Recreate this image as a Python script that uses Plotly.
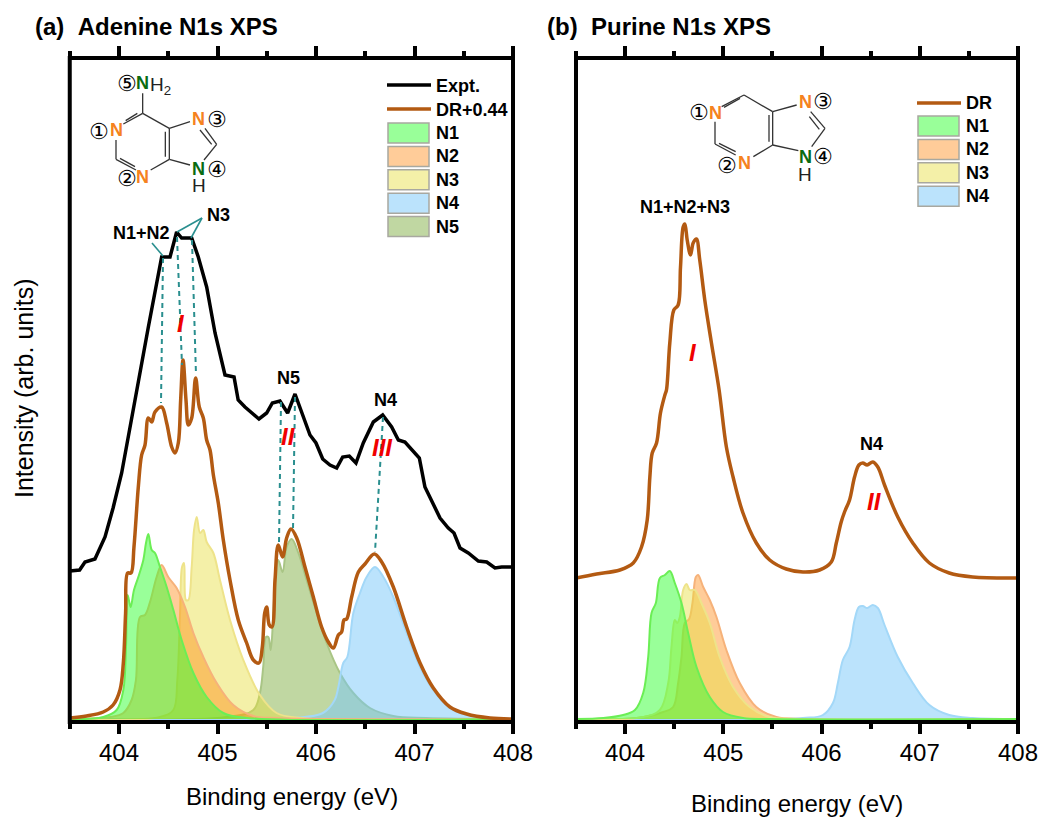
import plotly.graph_objects as go

# ---------- Panel (a) data: binding energy (eV), intensity (arb.) ----------
a_expt_x = [403.5,403.60,403.655,403.756,403.858,403.94,404.027,404.11,404.196,404.298,404.433,404.518,404.585,404.636,404.738,404.805,404.89,404.975,405.076,405.168,405.21,405.279,405.421,405.499,405.557,405.634,405.712,405.787,405.871,405.939,406.0,406.068,406.142,406.21,406.271,406.338,406.406,406.48,406.582,406.677,406.768,406.836,406.903,406.988,407.049,407.106,407.174,407.259,407.343,407.401,407.462,407.546,407.648,407.733,407.817,407.885,408.0]
a_expt_y = [148,149,157,160,182,211,246,289,337,392,462,462,487,481,481,462,432,386,344,342,319,312,300,306,316,318,306,325,301,284,276,260,254,251,262,263,256,276,297,304,292,279,277,267,261,232,219,201,191,186,171,166,158,157,151,152,152]

a_dr_x = [403.5,403.67,403.84,403.94,404.01,404.044,404.067,404.088,404.122,404.152,404.196,404.23,404.264,404.298,404.332,404.365,404.433,404.484,404.535,404.568,404.602,404.626,404.65,404.68,404.704,404.738,404.778,404.815,404.856,404.89,404.924,404.958,405.008,405.059,405.127,405.211,405.296,405.364,405.421,405.455,405.479,405.499,405.526,405.553,405.584,405.617,405.661,405.702,405.746,405.804,405.888,405.973,406.057,406.125,406.176,406.227,406.26,406.284,406.311,406.362,406.43,406.497,406.592,406.667,406.785,406.92,407.056,407.191,407.36,407.53,407.766,408.0]
a_dr_y = [1,3,7,14,29,56,106,146,146,172,232,264,274,301,297,307,312,296,272,266,276,319,359,319,294,301,341,312,301,279,269,244,216,179,139,99,76,59,56,72,106,112,94,92,139,174,162,181,190,181,152,122,92,77,71,84,87,99,100,122,147,155,165,157,132,92,56,31,12,5,1,0]

a_n1_x = [403.5,403.84,403.976,404.044,404.071,404.088,404.118,404.152,404.196,404.247,404.274,404.298,404.332,404.365,404.416,404.484,404.552,404.636,404.755,404.89,405.059,405.296,408.0]
a_n1_y = [0,2,9,29,72,124,112,129,142,159,176,185,169,166,152,132,109,79,46,22,6,1,0]

a_n2_x = [403.5,403.909,404.044,404.128,404.172,404.213,404.264,404.315,404.382,404.433,404.5,404.585,404.67,404.755,404.856,404.992,405.16,405.364,405.6,408.0]
a_n2_y = [0,2,6,19,39,102,104,117,142,154,142,131,112,86,62,36,14,3,1,0]

a_n3_x = [403.5,404.416,404.552,404.592,404.62,404.64,404.66,404.68,404.704,404.738,404.762,404.789,404.823,404.856,404.89,404.958,405.025,405.127,405.262,405.431,405.6,405.837,408.0]
a_n3_y = [0,2,9,39,106,152,156,119,119,152,189,202,186,189,177,166,139,99,59,24,6,1,0]

a_n4_x = [403.5,405.77,406.07,406.19,406.227,406.277,406.318,406.379,406.447,406.514,406.599,406.684,406.785,406.92,407.056,407.191,407.36,407.53,407.766,408.0]
a_n4_y = [0,1,6,19,32,56,62,106,126,142,152,142,122,86,52,29,11,4,1,0]

a_n5_x = [403.5,405.093,405.364,405.431,405.465,405.492,405.516,405.54,405.567,405.594,405.617,405.661,405.702,405.753,405.821,405.905,406.007,406.108,406.243,406.379,406.548,406.785,407.12,408.0]
a_n5_y = [0,2,9,26,53,82,82,69,106,152,159,147,172,180,166,139,106,76,46,26,11,3,1,0]

# ---------- Panel (b) data ----------
b_dr_x = [403.5,403.71,403.947,404.083,404.167,404.225,404.252,404.276,404.32,404.36,404.405,404.421,404.455,404.496,404.54,404.564,404.591,404.608,404.632,404.666,404.693,404.726,404.76,404.811,404.879,404.957,405.031,405.099,405.2,405.336,405.472,405.641,405.811,405.98,406.099,406.15,406.2,406.234,406.285,406.336,406.38,406.42,406.464,406.522,406.573,406.641,406.776,406.929,407.098,407.3,407.538,408.0]
b_dr_y = [141,145,149,156,172,199,242,266,276,306,324,329,376,409,414,452,492,495,479,464,476,480,459,419,376,329,272,242,206,176,159,150,147,149,157,176,197,207,219,242,254,256,254,257,252,234,202,176,156,146,142,141]

b_n1_x = [403.5,403.778,403.98,404.1,404.184,404.235,404.269,404.313,404.354,404.405,404.455,404.506,404.574,404.642,404.727,404.862,404.997,405.2,405.47,408.0]
b_n1_y = [0,1,4,9,26,62,106,116,141,144,148,136,116,86,52,22,7,1,0,0]

b_n2_x = [403.5,404.117,404.388,404.489,404.54,404.574,404.608,404.652,404.686,404.72,404.743,404.795,404.862,404.93,405.031,405.167,405.336,405.54,405.81,408.0]
b_n2_y = [0,1,7,12,36,62,96,100,116,142,144,132,119,102,69,36,12,2,0,0]

b_n3_x = [403.5,404.184,404.354,404.439,404.472,404.506,404.53,404.557,404.591,404.625,404.659,404.71,404.777,404.862,404.963,405.099,405.268,405.472,405.743,408.0]
b_n3_y = [0,2,9,36,72,99,96,102,129,135,129,129,116,96,62,32,12,2,0,0]

b_n4_x = [403.5,405.811,406.014,406.116,406.166,406.217,406.285,406.336,406.38,406.42,406.464,406.522,406.573,406.641,406.776,406.929,407.098,407.3,407.538,408.0]
b_n4_y = [0,1,4,16,36,59,72,99,112,113,111,114,111,94,62,36,14,4,1,0]

tick_values = [404, 405, 406, 407, 408]
tick_labels = ["404", "405", "406", "407", "408"]

FONT = "Liberation Sans"
W, H = 1039, 817
FILL = {"N1": "rgba(51,255,51,0.5)", "N2": "rgba(255,127,0,0.4)", "N3": "rgba(231,222,62,0.45)",
        "N4": "rgba(120,200,250,0.5)", "N5": "rgba(130,175,70,0.5)"}
EDGE = {"N1": "#6bee55", "N2": "#f6b27a", "N3": "#eee38a", "N4": "#a3d8f8", "N5": "#a9c585"}
SWATCH = {"N1": "#99ff99", "N2": "#ffcc99", "N3": "#f4f0a8", "N4": "#bbe3fc", "N5": "#c0d7a2"}
BROWN = "#b35a12"
TEAL = "#2a8f8f"
ORANGE = "#f58220"
DGREEN = "#0a6b12"

fig = go.Figure()


def band(name, x, y, axis):
    fig.add_trace(go.Scatter(x=x, y=y, name=name, mode="lines", fill="tozeroy", fillcolor=FILL[name],
                             line=dict(color=EDGE[name], width=2, shape="spline", smoothing=1.0),
                             xaxis="x" + axis, yaxis="y" + axis, showlegend=False))


band("N5", a_n5_x, a_n5_y, "")
band("N4", a_n4_x, a_n4_y, "")
band("N3", a_n3_x, a_n3_y, "")
band("N2", a_n2_x, a_n2_y, "")
band("N1", a_n1_x, a_n1_y, "")
fig.add_trace(go.Scatter(x=a_dr_x, y=a_dr_y, name="DR+0.44", mode="lines", showlegend=False,
                         line=dict(color=BROWN, width=3.5, shape="spline", smoothing=1.0)))
fig.add_trace(go.Scatter(x=a_expt_x, y=a_expt_y, name="Expt.", mode="lines", showlegend=False,
                         line=dict(color="black", width=3.5)))
band("N4", b_n4_x, b_n4_y, "2")
band("N2", b_n2_x, b_n2_y, "2")
band("N3", b_n3_x, b_n3_y, "2")
band("N1", b_n1_x, b_n1_y, "2")
fig.add_trace(go.Scatter(x=b_dr_x, y=b_dr_y, name="DR", mode="lines", showlegend=False, xaxis="x2", yaxis="y2",
                         line=dict(color=BROWN, width=3.5, shape="spline", smoothing=1.0)))

shapes, annos = [], []


def px(x):
    return x / W


def py(y):
    return 1 - y / H


def seg(x0, y0, x1, y1, color="#333333", width=1.3, dash="solid"):
    shapes.append(dict(type="line", xref="paper", yref="paper", x0=px(x0), y0=py(y0), x1=px(x1), y1=py(y1),
                       line=dict(color=color, width=width, dash=dash)))


def txt(x, y, s, size=18, color="black", bold=False, italic=False, family=FONT, angle=0, anchor="center"):
    if bold:
        s = "<b>" + s + "</b>"
    if italic:
        s = "<i>" + s + "</i>"
    annos.append(dict(x=px(x), y=py(y), xref="paper", yref="paper", text=s, showarrow=False, xanchor=anchor,
                      yanchor="middle", textangle=angle, font=dict(family=family, size=size, color=color)))


def swatch(x0, x1, y0, y1, name):
    shapes.append(dict(type="rect", xref="paper", yref="paper", x0=px(x0), x1=px(x1), y0=py(y0), y1=py(y1),
                       fillcolor=SWATCH[name], line=dict(color="#a8a8a0", width=1.5)))


# frames (centred on plot-area edges)
for xr, yr in (("x domain", "y domain"), ("x2 domain", "y2 domain")):
    shapes.append(dict(type="rect", xref=xr, yref=yr, x0=0, x1=1, y0=0, y1=1, line=dict(color="black", width=4),
                       layer="above"))

# titles
txt(33, 27, "(a)&nbsp;&nbsp;Adenine N1s XPS", size=24, bold=True, anchor="left")
txt(545, 27, "(b)&nbsp;&nbsp;Purine N1s XPS", size=24, bold=True, anchor="left")
txt(292, 796, "Binding energy (eV)", size=24)
txt(797, 803, "Binding energy (eV)", size=24)
txt(24, 388, "Intensity (arb. units)", size=25, angle=-90)

# panel (a) legend
seg(387, 85, 431, 85, "black", 3.5)
seg(387, 109, 431, 109, BROWN, 3.5)
txt(434, 86, "Expt.", bold=True, anchor="left")
txt(434, 110, "DR+0.44", bold=True, anchor="left")
for i, n in enumerate(["N1", "N2", "N3", "N4", "N5"]):
    y0 = 123 + i * 23.4
    swatch(388, 429, y0, y0 + 20, n)
    txt(434, y0 + 10, n, bold=True, anchor="left")

# panel (b) legend
seg(917, 103, 961, 103, BROWN, 3.5)
txt(964, 103, "DR", bold=True, anchor="left")
for i, n in enumerate(["N1", "N2", "N3", "N4"]):
    y0 = 116 + i * 23.4
    swatch(918, 959, y0, y0 + 20, n)
    txt(964, y0 + 10, n, bold=True, anchor="left")

# guides
for g in [(163, 258, 161, 403), (177, 237, 182, 365), (192, 240, 196, 375),
          (281, 402, 279, 543), (295, 397, 293, 530), (383, 417, 375, 552)]:
    seg(*g, color=TEAL, width=2, dash="5px,4px")
for g in [(152, 243, 163, 256), (177, 232, 202, 218), (202, 218, 191, 238)]:
    seg(*g, color=TEAL, width=1.6)

# peak labels
txt(141, 233, "N1+N2", 18, bold=True)
txt(218, 215, "N3", 18, bold=True)
txt(288, 378, "N5", 18, bold=True)
txt(385, 400, "N4", 18, bold=True)
txt(685, 207, "N1+N2+N3", 18, bold=True)
txt(871, 444, "N4", 18, bold=True)
for x, y, s in [(181, 323, "I"), (288, 437, "II"), (382, 447, "III"), (693, 352, "I"), (874, 501, "II")]:
    txt(x, y, s, 24, "#f00000", bold=True, italic=True)


# molecules
def mol(ox, oy, bonds, labels):
    for b in bonds:
        seg(ox + b[0] / 3, oy + b[1] / 3, ox + b[2] / 3, oy + b[3] / 3)
    for x, y, s, c, fam, size, bold in labels:
        txt(ox + x / 3, oy + y / 3, s, size, c, family=fam, bold=bold)


DJ = "DejaVu Sans"
mol(60, 50,
    [(248, 190, 248, 130), (248, 190, 190, 222), (232, 190, 197, 212), (168, 270, 168, 328), (168, 328, 228, 360),
     (180, 325, 225, 350), (272, 360, 328, 328), (328, 328, 328, 235), (316, 320, 316, 245), (328, 235, 248, 190),
     (328, 235, 390, 215), (435, 235, 470, 283), (420, 240, 455, 283), (470, 283, 432, 330), (390, 345, 328, 328)],
    [(168, 240, "N", ORANGE, FONT, 18, True), (248, 382, "N", ORANGE, FONT, 18, True), (416, 208, "N", ORANGE, FONT, 18, True),
     (416, 358, "N", DGREEN, FONT, 18, True), (248, 100, "N", DGREEN, FONT, 18, True),
     (300, 108, "H<sub>2</sub>", "#222222", FONT, 19, False),
     (416, 408, "H", "#222222", FONT, 19, False), (118, 245, "①", "black", DJ, 22, False), (200, 385, "②", "black", DJ, 22, False),
     (472, 207, "③", "black", DJ, 22, False), (472, 357, "④", "black", DJ, 22, False), (200, 100, "⑤", "black", DJ, 22, False)])
mol(570, 50,
    [(522, 135, 455, 170), (510, 145, 462, 172), (435, 215, 435, 282), (435, 282, 497, 315), (447, 280, 497, 305),
     (550, 320, 608, 285), (608, 285, 608, 185), (597, 275, 597, 195), (608, 185, 522, 135), (608, 185, 680, 165),
     (722, 185, 765, 235), (718, 200, 748, 238), (765, 235, 725, 290), (685, 302, 608, 285)],
    [(435, 188, "N", ORANGE, FONT, 18, True), (524, 340, "N", ORANGE, FONT, 18, True), (706, 156, "N", ORANGE, FONT, 18, True),
     (706, 322, "N", DGREEN, FONT, 18, True), (706, 373, "H", "#222222", FONT, 19, False), (386, 188, "①", "black", DJ, 22, False),
     (470, 347, "②", "black", DJ, 22, False), (760, 153, "③", "black", DJ, 22, False), (760, 320, "④", "black", DJ, 22, False)])

xbase = dict(range=[403.5, 408], tickmode="array", tickvals=tick_values, ticktext=tick_labels, ticks="outside",
             ticklen=11, tickwidth=4, tickcolor="black", mirror="ticks", showline=False, showgrid=False,
             zeroline=False, ticklabelstandoff=-2, tickfont=dict(family=FONT, size=24, color="black"),
             minor=dict(tickmode="array", tickvals=[403.5, 404.5, 405.5, 406.5, 407.5], ticks="outside", ticklen=6,
                        tickwidth=4, tickcolor="black", showgrid=False))
ybase = dict(range=[-3, 661], showticklabels=False, ticks="", showgrid=False, zeroline=False, showline=False)
ydom = [py(722), py(58)]

fig.update_layout(
    width=W, height=H, autosize=False, margin=dict(l=0, r=0, t=0, b=0, autoexpand=False), paper_bgcolor="white", plot_bgcolor="white",
    font=dict(family=FONT, color="black"), showlegend=False,
    xaxis=dict(xbase, domain=[px(69.75), px(513)], anchor="y"),
    yaxis=dict(ybase, domain=ydom, anchor="x"),
    xaxis2=dict(xbase, domain=[px(576), px(1018)], anchor="y2"),
    yaxis2=dict(ybase, domain=ydom, anchor="x2"),
    shapes=shapes, annotations=annos,
)

fig.write_html("out.html", post_script="document.body.style.margin='0';document.body.style.overflow='hidden';",
               config={"displayModeBar": False})
